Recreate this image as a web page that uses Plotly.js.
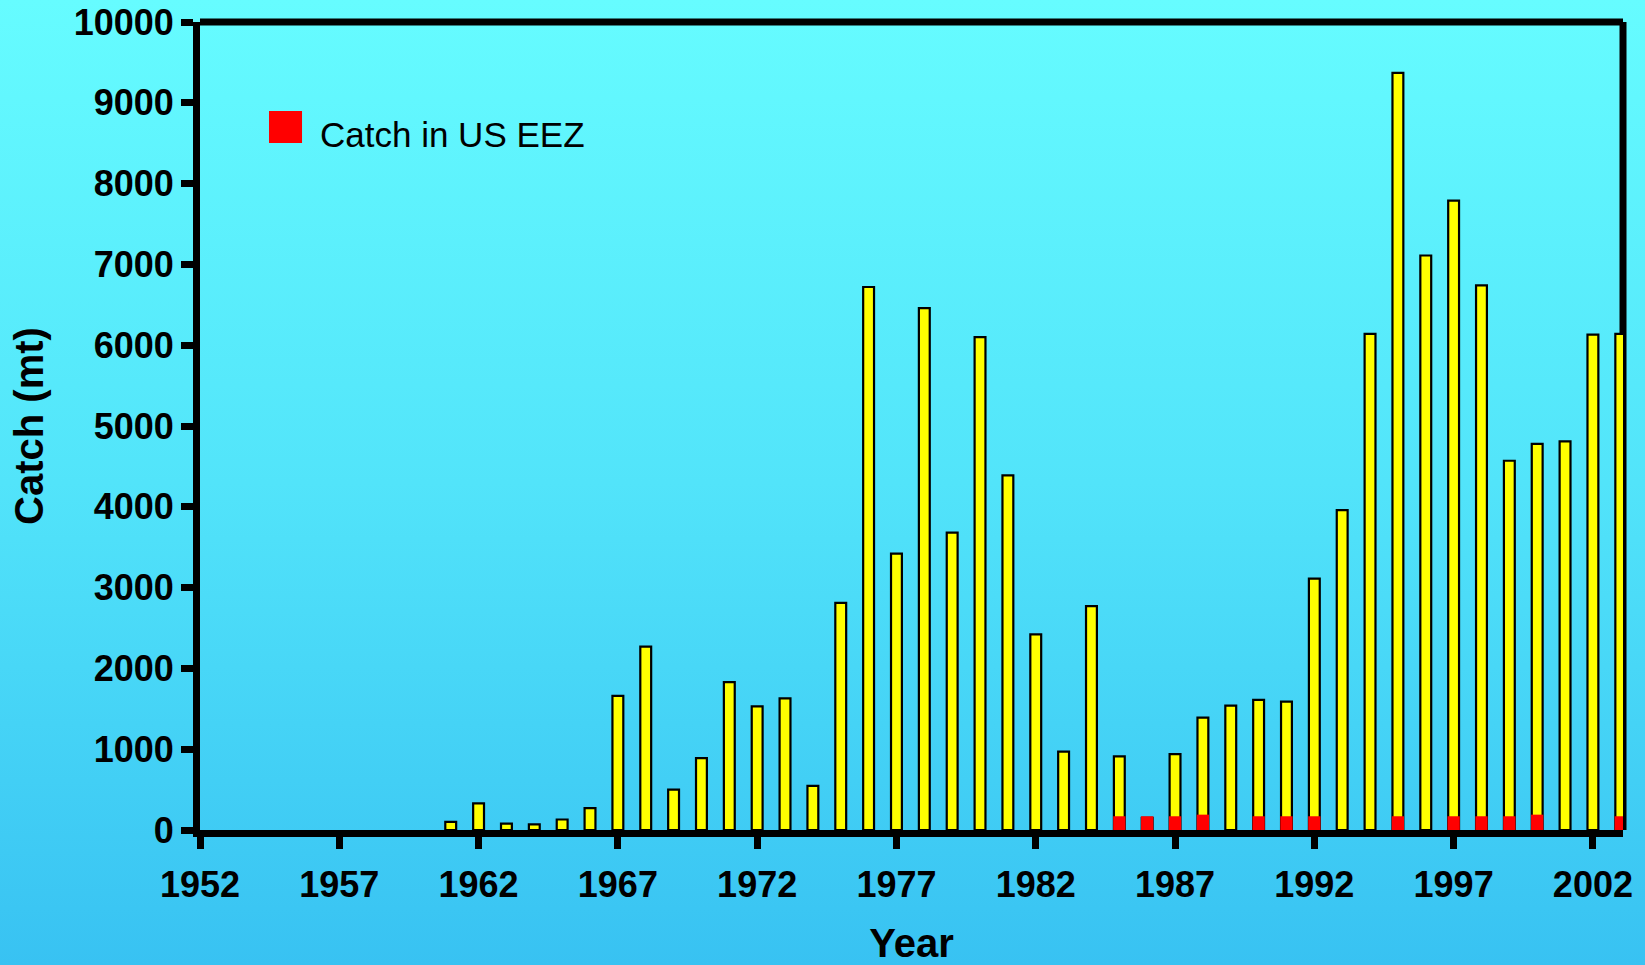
<!DOCTYPE html>
<html>
<head>
<meta charset="utf-8">
<script src="https://cdn.plot.ly/plotly-3.0.1.min.js"></script>
<style>
  html, body { margin: 0; padding: 0; }
  #chart {
    width: 1645px;
    height: 965px;
    background: linear-gradient(to bottom, #66fcff 0%, #52e4fa 50%, #38c2f2 100%);
  }
</style>
</head>
<body>
<div id="chart"></div>
<script>
// total catch by year (mt); null = no catch reported
var years = [];
for (var yr = 1952; yr <= 2003; yr++) years.push(yr);

var catchTotal = [
  null, null, null, null, null, null, null, null, null,  // 1952-1960
  100, 330, 80, 70, 130, 270,           // 1961-1966
  1660, 2270, 500, 890, 1830, 1530,     // 1967-1972
  1630, 545, 2810, 6720, 3420, 6460,    // 1973-1978
  3680, 6100, 4390, 2420, 970, 2770,    // 1979-1984
  910, 150, 940, 1390, 1540, 1610,      // 1985-1990
  1590, 3110, 3960, 6140, 9370, 7110,   // 1991-1996
  7790, 6740, 4570, 4780, 4810, 6130,   // 1997-2002
  6140                                  // 2003
];

// catch inside the US EEZ
var eezYears = [1985, 1986, 1987, 1988, 1990, 1991, 1992, 1995, 1997, 1998, 1999, 2000, 2003];
var eezCatch = [170, 170, 170, 190, 170, 170, 170, 170, 170, 170, 170, 190, 170];

var legendLabel = "Catch in US EEZ";
var yTicks = [0, 1000, 2000, 3000, 4000, 5000, 6000, 7000, 8000, 9000, 10000];
var xTicks = [1952, 1957, 1962, 1967, 1972, 1977, 1982, 1987, 1992, 1997, 2002];

var fam = '"Liberation Sans", Arial, Helvetica, sans-serif';

var traces = [
  {
    type: "bar",
    x: years,
    y: catchTotal,
    width: 0.39,
    marker: { color: "#ffff00", line: { color: "#000000", width: 2.2 } },
    showlegend: false,
  },
  {
    type: "bar",
    x: eezYears,
    y: eezCatch,
    width: 0.44,
    name: legendLabel,
    marker: { color: "#ff0000", line: { width: 0 } },
    showlegend: false,
  },
];

var layout = {
  width: 1645,
  height: 965,
  margin: { l: 200, r: 22, t: 22, b: 135 },
  paper_bgcolor: "rgba(0,0,0,0)",
  plot_bgcolor: "rgba(0,0,0,0)",
  barmode: "overlay",
  font: { family: fam, color: "#000000" },
  xaxis: {
    range: [1952, 2003.08],
    tickvals: xTicks,
    ticktext: xTicks.map(String),
    ticks: "outside",
    ticklen: 12,
    tickwidth: 7,
    tickcolor: "#000000",
    ticklabelstandoff: 5,
    showline: true,
    linecolor: "#000000",
    linewidth: 7,
    showgrid: false,
    zeroline: false,
    tickfont: { family: fam, size: 36, weight: "bold" },
    title: { text: "Year", font: { family: fam, size: 40, weight: "bold" }, standoff: 45 },
    automargin: false,
  },
  yaxis: {
    range: [0, 10000],
    tickvals: yTicks,
    ticktext: yTicks.map(String),
    ticks: "outside",
    ticklen: 12,
    tickwidth: 7,
    tickcolor: "#000000",
    showline: true,
    linecolor: "#000000",
    linewidth: 7,
    showgrid: false,
    zeroline: false,
    tickfont: { family: fam, size: 36, weight: "bold" },
    title: { text: "Catch (mt)", font: { family: fam, size: 40, weight: "bold" }, standoff: 20 },
    automargin: false,
  },
  shapes: [
    // top and right frame, under the bars
    { type: "line", xref: "paper", yref: "paper", x0: 0, x1: 1, y0: 1, y1: 1,
      line: { color: "#000000", width: 7 }, layer: "below" },
    { type: "line", xref: "paper", yref: "paper", x0: 1, x1: 1, y0: 0, y1: 1,
      line: { color: "#000000", width: 7 }, layer: "below" },
    // legend swatch
    { type: "rect", xref: "paper", yref: "paper", x0: 0.0485, x1: 0.0717, y0: 0.8502, y1: 0.8899,
      fillcolor: "#ff0000", line: { width: 0 } },
  ],
  annotations: [
    { xref: "paper", yref: "paper", x: 0.0829, y: 0.861, xanchor: "left", yanchor: "middle",
      text: legendLabel, showarrow: false, font: { family: fam, size: 35, color: "#000000" } },
  ],
};

Plotly.newPlot("chart", traces, layout, { displayModeBar: false, staticPlot: true });
</script>
</body>
</html>
